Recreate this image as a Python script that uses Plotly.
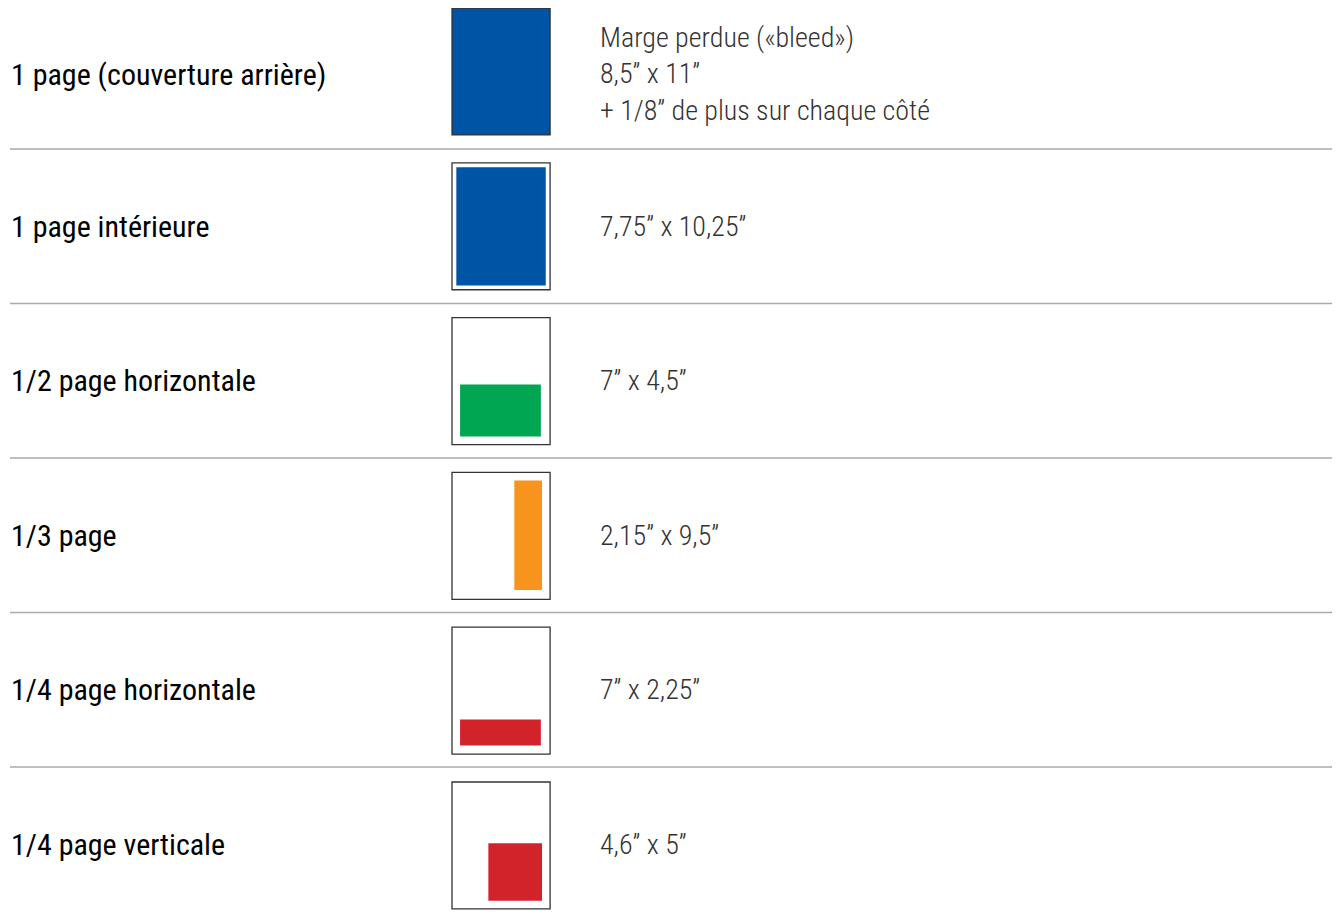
import plotly.graph_objects as go

# ---- data ----
labels = ["1 page (couverture arrière)", "1 page intérieure", "1/2 page horizontale",
          "1/3 page", "1/4 page horizontale", "1/4 page verticale"]
specs = ["Marge perdue («bleed»)<br>8,5” x 11”<br>+ 1/8” de plus sur chaque côté",
         "7,75” x 10,25”", "7” x 4,5”", "2,15” x 9,5”", "7” x 2,25”", "4,6” x 5”"]
page_w = 8.5
page_h = 11.0
# drawn ad rectangles in inches (left, top offset from page corner, width, height)
ad_x = [0.0, 0.375, 0.7, 5.4, 0.7, 3.15]
ad_y = [0.0, 0.375, 5.8, 0.7, 8.0, 5.3]
ad_w = [8.5, 7.75, 7.0, 2.4, 7.0, 4.65]
ad_h = [11.0, 10.25, 4.5, 9.5, 2.25, 5.0]
colors = ["#0054A6", "#0054A6", "#00A651", "#F7941D", "#D2232A", "#D2232A"]

# ---- layout constants (figure pixels; page body adds an 8px offset) ----
OFF = 8
W, H = 1340 - OFF, 916 - OFF
S = 11.54           # pixels per inch
PAGE_LEFT = 452 - OFF
PAGE_TOP0 = 8 - OFF
PITCH = 154.8
DIV0 = 149 - OFF
DIV_PITCH = 154.5
FONT = "Liberation Sans Narrow, Roboto Condensed, Arial Narrow, sans-serif"

fig = go.Figure()
fig.add_trace(go.Scatter(x=[0], y=[0], mode="markers", marker=dict(opacity=0),
                         hoverinfo="skip", showlegend=False))

shapes = []
annotations = []
for i in range(len(labels)):
    top_in = (PAGE_TOP0 + i * PITCH) / S
    shapes.append(dict(type="rect", xref="x", yref="y",
                       x0=ad_x[i], x1=ad_x[i] + ad_w[i],
                       y0=top_in + ad_y[i], y1=top_in + ad_y[i] + ad_h[i],
                       fillcolor=colors[i], line=dict(width=0), layer="above"))
    shapes.append(dict(type="rect", xref="x", yref="y",
                       x0=0, x1=page_w, y0=top_in, y1=top_in + page_h,
                       fillcolor="rgba(0,0,0,0)", line=dict(color="#333333", width=1.3),
                       layer="above"))
    if i == 0:
        row_center = 74.5 - OFF
    else:
        row_center = DIV0 + (i - 1) * DIV_PITCH + DIV_PITCH / 2
    annotations.append(dict(xref="paper", yref="paper", x=0.5 / W, y=1 - row_center / H,
                            xanchor="left", yanchor="middle", showarrow=False,
                            text=labels[i],
                            font=dict(family=FONT, size=30, color="#000000")))
    annotations.append(dict(xref="paper", yref="paper", x=590 / W, y=1 - row_center / H,
                            xanchor="left", yanchor="middle", showarrow=False, align="left",
                            text=specs[i],
                            font=dict(family=FONT, size=28, color="#333333", weight=300)))

for k in range(5):
    y = DIV0 + k * DIV_PITCH
    shapes.append(dict(type="line", xref="paper", yref="paper",
                       x0=2 / W, x1=1, y0=1 - y / H, y1=1 - y / H,
                       line=dict(color="#aaaaaa", width=1.5)))

fig.update_layout(
    width=W, height=H,
    margin=dict(l=0, r=0, t=0, b=0),
    paper_bgcolor="white", plot_bgcolor="white",
    xaxis=dict(range=[-PAGE_LEFT / S, (W - PAGE_LEFT) / S], visible=False, fixedrange=True),
    yaxis=dict(range=[H / S, 0], visible=False, fixedrange=True),
    shapes=shapes, annotations=annotations, showlegend=False,
)

fig.write_html("out.html")
